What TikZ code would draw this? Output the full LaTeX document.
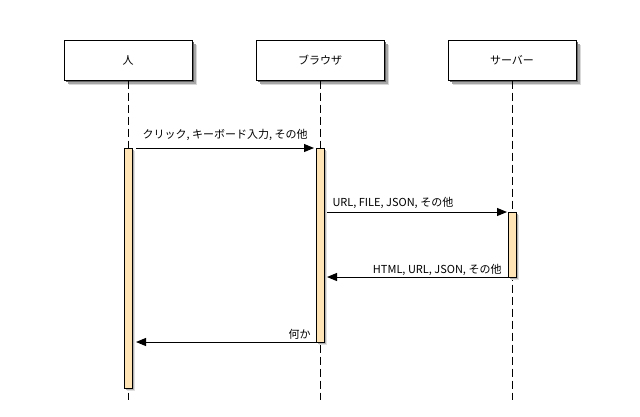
\documentclass[tikz,border=0pt]{standalone}
\usepackage{fontspec}
\setmainfont{Noto Sans CJK JP}
\usetikzlibrary{arrows.meta,shadows,positioning}

\definecolor{barfill}{RGB}{255,228,181}

\tikzset{
  actor/.style={draw, fill=white, line width=1pt, minimum width=128pt,
    minimum height=40pt, inner sep=0pt,
    general shadow={shadow xshift=5pt, shadow yshift=-5pt, fill=black!15},
    general shadow={shadow xshift=3.5pt, shadow yshift=-3.5pt, fill=black!35},
    general shadow={shadow xshift=2pt, shadow yshift=-2pt, fill=black!60}},
  lifeline/.style={line width=1pt, dash pattern=on 8pt off 4pt},
  actbar/.style={draw, fill=barfill, line width=1pt, minimum width=8pt,
    inner sep=0pt, outer sep=0pt,
    general shadow={shadow xshift=3pt, shadow yshift=-3pt, fill=black!12},
    general shadow={shadow xshift=1.5pt, shadow yshift=-1.5pt, fill=black!30}},
  msg/.style={line width=1pt, -{Triangle[length=10pt,width=8pt]}},
  msglabel/.style={inner sep=0pt, pos=0},
}

\begin{document}
\begin{tikzpicture}[x=1pt, y=-1pt, font=\fontsize{11}{13}\selectfont]
\useasboundingbox (0,0) rectangle (640,416);

% Actors
\node[actor] (hito)   at (128,60) {人};
\node[actor] (brw)    at (320,60) {ブラウザ};
\node[actor] (srv)    at (512,60) {サーバー};

% Lifelines
\coordinate (hitoend) at (128,400);
\coordinate (brwend)  at (320,400);
\coordinate (srvend)  at (512,400);
\draw[lifeline] (hito.south) -- (hitoend);
\draw[lifeline] (brw.south) -- (brwend);
\draw[lifeline] (srv.south) -- (srvend);

% Activation bars
\node[actbar, minimum height=240pt] (hitobar) at (128,268)   {};
\node[actbar, minimum height=194pt] (brwbar)  at (320,245)   {};
\node[actbar, minimum height=65pt]  (srvbar)  at (512,244.5) {};

% Messages
\draw[msg, shorten <=4pt, shorten >=2pt] (hitobar.north east) -- (brwbar.north west)
  node[msglabel, anchor=base west, xshift=10pt, yshift=10pt] {クリック, キーボード入力, その他};
\draw[msg, shorten <=3pt, shorten >=1pt] (brwbar.east |- srvbar.north) -- (srvbar.north west)
  node[msglabel, anchor=base west, xshift=8pt, yshift=6pt] {URL, FILE, JSON, その他};
\draw[msg, shorten >=3pt] (srvbar.south west) -- (brwbar.east |- srvbar.south)
  node[msglabel, anchor=base east, xshift=-6pt, yshift=3.5pt] {HTML, URL, JSON, その他};
\draw[msg, shorten >=4pt] (brwbar.south west) -- (hitobar.east |- brwbar.south)
  node[msglabel, anchor=base east, xshift=-5pt, yshift=4pt] {何か};

\end{tikzpicture}
\end{document}
